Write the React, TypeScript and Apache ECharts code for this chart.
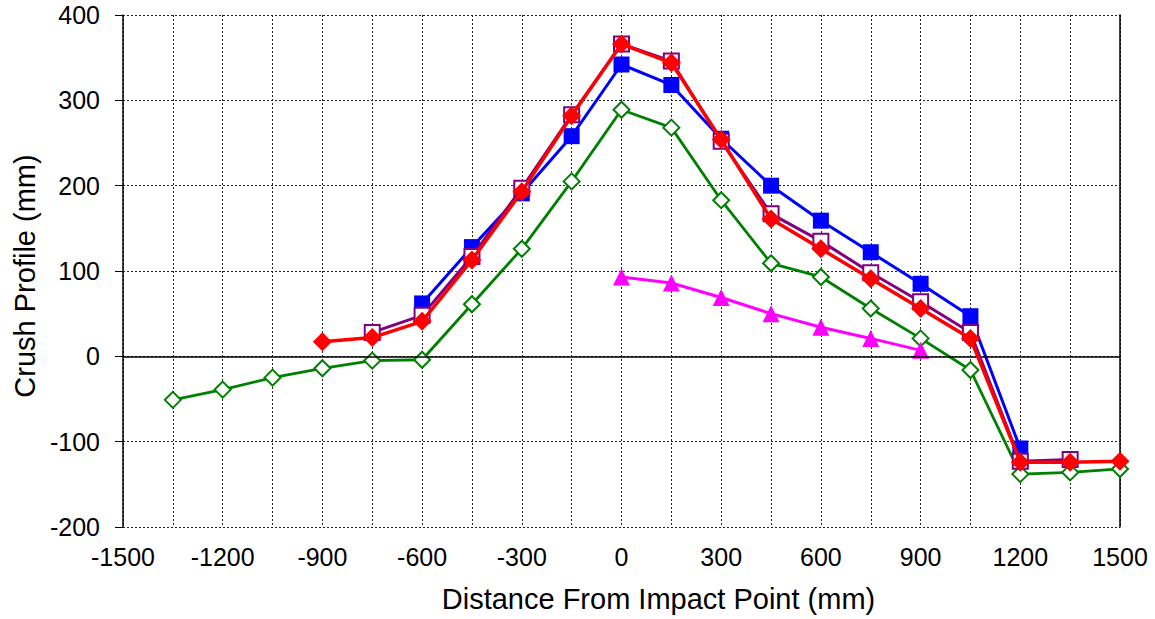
import React, { useEffect, useRef } from "react";
import * as echarts from "echarts";

// Data
const blueX = [-600, -450, -300, -150, 0, 150, 300, 450, 600, 750, 900, 1050, 1200];
const blueY = [62, 128, 191, 258, 342, 318, 255, 200, 159, 122, 85, 47, -108];

const purpleX = [-750, -600, -450, -300, -150, 0, 150, 300, 450, 600, 750, 900, 1050, 1200, 1350];
const purpleY = [28, 48, 117, 197, 283, 366, 346, 252, 167, 135, 98, 64, 28, -123, -121];

const redX = [-900, -750, -600, -450, -300, -150, 0, 150, 300, 450, 600, 750, 900, 1050, 1200, 1350, 1500];
const redY = [17, 22, 41, 113, 193, 282, 366, 344, 254, 161, 126, 91, 56, 21, -124, -124, -123];

const greenX = [-1350, -1200, -1050, -900, -750, -600, -450, -300, -150, 0, 150, 300, 450, 600, 750, 900, 1050, 1200, 1350, 1500];
const greenY = [-51, -39, -25, -14, -5, -4, 61, 126, 205, 289, 268, 183, 109, 93, 56, 21, -16, -138, -136, -132];

const magentaX = [0, 150, 300, 450, 600, 750, 900];
const magentaY = [93, 86, 69, 50, 34, 21, 7];

const xTitle = "Distance From Impact Point (mm)";
const yTitle = "Crush Profile (mm)";

const FONT = "'Liberation Sans', Arial, sans-serif";

const pairs = (xs: number[], ys: number[]) => xs.map((x, i) => [x, ys[i]]);

export default function App() {
  const ref = useRef<HTMLDivElement>(null);
  useEffect(() => {
    if (!ref.current) return;
    const chart = echarts.init(ref.current, undefined, { renderer: "svg" });
    const gridLine = { show: true, lineStyle: { color: "#222", width: 1, type: [2, 2] as any } };
    chart.setOption({
      animation: false,
      backgroundColor: "#fff",
      grid: { left: 123, right: 35, top: 15, bottom: 92 },
      xAxis: {
        type: "value",
        min: -1500,
        max: 1500,
        interval: 300,
        axisLine: { show: false },
        axisTick: { show: false },
        axisLabel: {
          fontSize: 25,
          color: "#000",
          fontFamily: FONT,
          margin: 17,
          formatter: (v: number) => String(v),
        },
        splitLine: gridLine,
        minorTick: { show: false, splitNumber: 2 },
        minorSplitLine: gridLine,
        name: xTitle,
        nameLocation: "middle",
        nameGap: 57,
        nameTextStyle: { fontSize: 29, color: "#000", fontFamily: FONT, padding: [0, 0, 0, 74] },
      },
      yAxis: [
        {
          type: "value",
          min: -200,
          max: 400,
          interval: 100,
          axisLine: { show: true, onZero: false, lineStyle: { color: "#000", width: 1.5 } },
          axisTick: { show: true, inside: false, length: 8, lineStyle: { color: "#000" } },
          axisLabel: {
            fontSize: 25,
            color: "#000",
            fontFamily: FONT,
            margin: 23,
            formatter: (v: number) => String(v),
          },
          splitLine: gridLine,
          name: yTitle,
          nameLocation: "middle",
          nameGap: 82,
          nameTextStyle: { fontSize: 29, color: "#000", fontFamily: FONT, padding: [0, 10, 0, 0] },
        },
        {
          type: "value",
          position: "right",
          min: -200,
          max: 400,
          interval: 100,
          axisLine: { show: true, onZero: false, lineStyle: { color: "#000", width: 1.5 } },
          axisTick: { show: false },
          axisLabel: { show: false },
          splitLine: { show: false },
        },
      ],
      series: [
        {
          type: "line",
          data: pairs(greenX, greenY),
          symbol: "emptyDiamond",
          symbolSize: 16,
          lineStyle: { color: "#008000", width: 2.8 },
          itemStyle: { color: "#008000", borderWidth: 2.2 },
          markLine: {
            silent: true,
            symbol: "none",
            label: { show: false },
            lineStyle: { color: "#000", width: 1.5, type: "solid" },
            data: [{ yAxis: 0 }],
          },
          z: 2,
        },
        {
          type: "line",
          data: pairs(magentaX, magentaY),
          symbol: "triangle",
          symbolSize: 17,
          lineStyle: { color: "#ff00ff", width: 3 },
          itemStyle: { color: "#ff00ff" },
          z: 3,
        },
        {
          type: "line",
          data: pairs(blueX, blueY),
          symbol: "rect",
          symbolSize: 16,
          lineStyle: { color: "#0000ff", width: 3 },
          itemStyle: { color: "#0000ff" },
          z: 4,
        },
        {
          type: "line",
          data: pairs(purpleX, purpleY),
          symbol: "emptyRect",
          symbolSize: 15,
          lineStyle: { color: "#800080", width: 3 },
          itemStyle: { color: "#800080", borderWidth: 2.2 },
          z: 5,
        },
        {
          type: "line",
          data: pairs(redX, redY),
          symbol: "diamond",
          symbolSize: 19,
          lineStyle: { color: "#ff0000", width: 3.5 },
          itemStyle: { color: "#ff0000" },
          z: 6,
        },
      ],
    });
    return () => chart.dispose();
  }, []);
  return (
    <div
      ref={ref}
      style={{ position: "fixed", left: 0, top: 0, width: 1155, height: 619, background: "#fff" }}
    />
  );
}
